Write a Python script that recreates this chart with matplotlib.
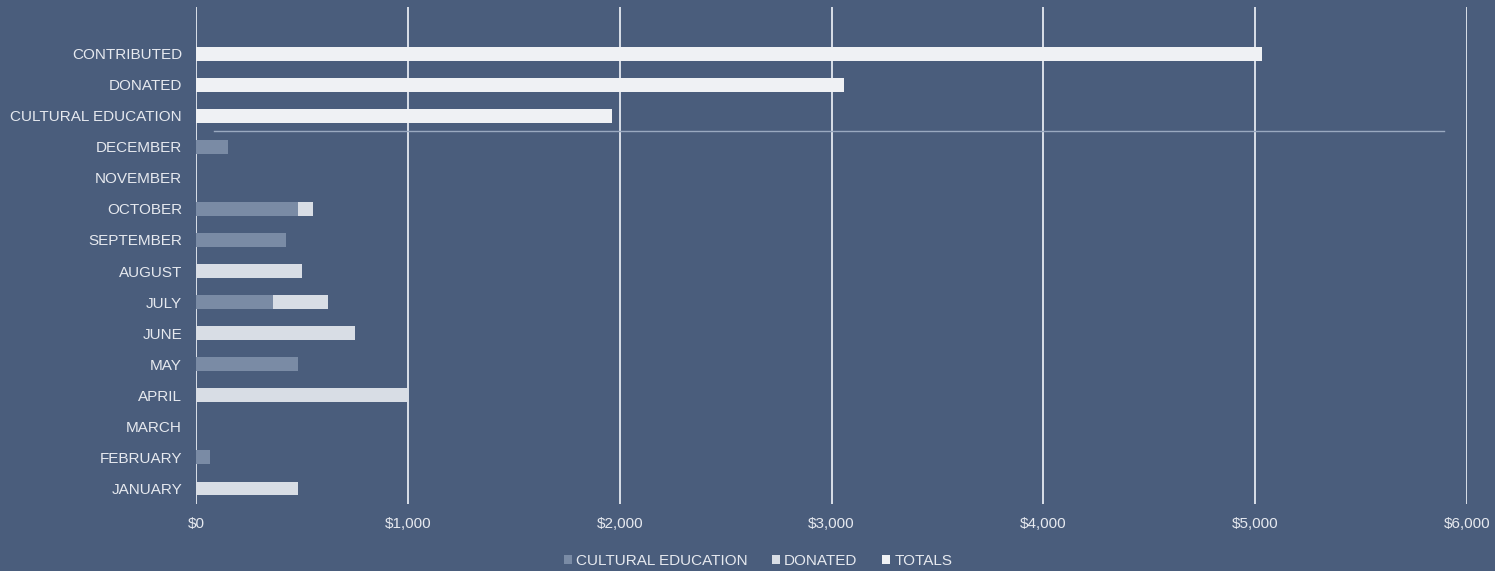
import matplotlib.pyplot as plt
import numpy as np
from matplotlib.ticker import FuncFormatter

# chart data
categories = ['JANUARY', 'FEBRUARY', 'MARCH', 'APRIL', 'MAY', 'JUNE', 'JULY',
              'AUGUST', 'SEPTEMBER', 'OCTOBER', 'NOVEMBER', 'DECEMBER',
              'CULTURAL EDUCATION', 'DONATED', 'CONTRIBUTED']
cultural = [0, 65, 0, 0, 480, 0, 365, 0, 425, 480, 0, 150, 0, 0, 0]
donated = [480, 0, 0, 1000, 0, 750, 260, 500, 0, 70, 0, 0, 0, 0, 0]
totals = [0, 0, 0, 0, 0, 0, 0, 0, 0, 0, 0, 0, 1965, 3060, 5030]
xticks = [0, 1000, 2000, 3000, 4000, 5000, 6000]

bg = '#4a5d7c'
txt = '#e6e9ef'
c_cult = '#7a8ba5'
c_don = '#d8dde5'
c_tot = '#eff1f4'

plt.rcParams['font.family'] = ['Liberation Sans', 'DejaVu Sans']

fig = plt.figure(figsize=(14.95, 5.71), dpi=100, facecolor=bg)
ax = fig.add_axes([0.1311, 0.1173, 0.8502, 0.8704])
ax.set_facecolor(bg)

y = np.arange(len(categories))
h = 0.45
ax.barh(y, cultural, height=h, color=c_cult, label='CULTURAL EDUCATION', zorder=3)
ax.barh(y, donated, height=h, left=cultural, color=c_don, label='DONATED', zorder=3)
ax.barh(y, totals, height=h, color=c_tot, label='TOTALS', zorder=3)

# separator between months and totals
ax.axhline(11.5, xmin=0.014, xmax=0.982, color='#9aa9c0', lw=1.0, zorder=2)

ax.set_xlim(0, 6000)
ax.set_ylim(-0.5, 15.5)
ax.set_xticks(xticks)
ax.xaxis.set_major_formatter(FuncFormatter(lambda v, p: '${:,.0f}'.format(v)))
ax.set_yticks(y)
ax.set_yticklabels(categories)
ax.grid(axis='x', color='#e4e9f1', lw=1.3, zorder=1)
ax.tick_params(length=0, colors=txt, labelsize=11)
ax.tick_params(axis='x', pad=9)
ax.tick_params(axis='y', pad=10)
for s in ax.spines.values():
    s.set_visible(False)

leg = fig.legend(loc='lower center', bbox_to_anchor=(0.507, -0.018), ncol=3, frameon=False,
                 fontsize=11, handlelength=0.55, handleheight=0.55, handletextpad=0.25,
                 columnspacing=1.6)
for t in leg.get_texts():
    t.set_color(txt)

fig.savefig('out.png', dpi=100, facecolor=bg)
